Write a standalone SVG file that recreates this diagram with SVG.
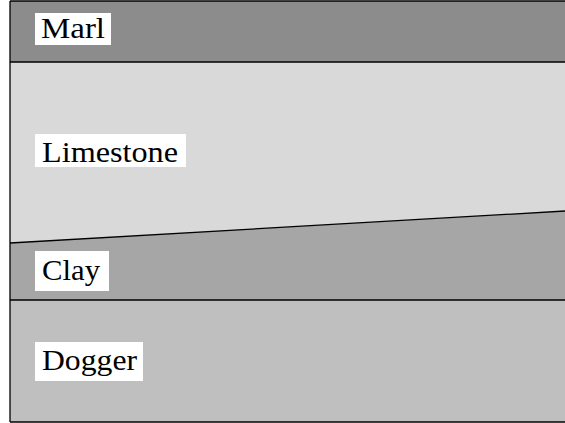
<svg xmlns="http://www.w3.org/2000/svg" width="565" height="423" viewBox="0 0 565 423">
<style>
.ln{stroke:#000;stroke-width:1.3;fill:none}
.lb{fill:#fff}
.tx{font-family:"Liberation Serif","Times New Roman",serif;font-size:29px;fill:#000}
</style>
<rect width="565" height="423" fill="#fff"/>
<g id="marl">
<rect x="10" y="1" width="555" height="61" fill="#8c8c8c"/>
<rect class="lb" x="35" y="13" width="76" height="32"/>
<text class="tx" x="41" y="38" textLength="64" lengthAdjust="spacingAndGlyphs">Marl</text>
</g>
<g id="limestone">
<polygon points="10,62 565,62 565,211 10,243" fill="#d9d9d9"/>
<rect class="lb" x="35" y="134" width="151" height="33"/>
<text class="tx" x="42" y="162" textLength="136" lengthAdjust="spacingAndGlyphs">Limestone</text>
</g>
<g id="clay">
<polygon points="10,243 565,211 565,300 10,300" fill="#a6a6a6"/>
<rect class="lb" x="35" y="251" width="74" height="40"/>
<text class="tx" x="42" y="280" textLength="58" lengthAdjust="spacingAndGlyphs">Clay</text>
</g>
<g id="dogger">
<rect x="10" y="300" width="555" height="122" fill="#bfbfbf"/>
<rect class="lb" x="35" y="342" width="108" height="39"/>
<text class="tx" x="42" y="370" textLength="95" lengthAdjust="spacingAndGlyphs">Dogger</text>
</g>
<g id="connectors">
<line class="ln" x1="10" y1="1" x2="565" y2="1"/>
<line class="ln" x1="10" y1="1" x2="10" y2="422"/>
<line class="ln" x1="10" y1="422" x2="565" y2="422"/>
<line class="ln" x1="10" y1="62" x2="565" y2="62"/>
<line class="ln" x1="10" y1="300" x2="565" y2="300"/>
<line class="ln" x1="10" y1="243" x2="565" y2="211"/>
</g>
</svg>
